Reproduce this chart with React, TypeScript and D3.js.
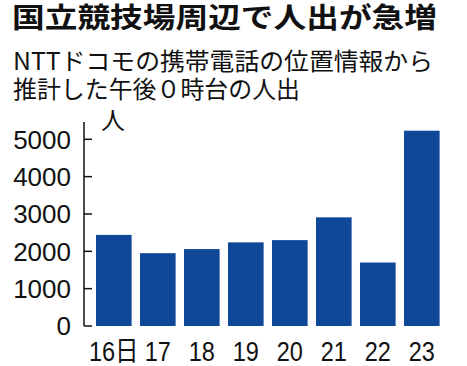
import React from "react";
import * as d3 from "d3";

const categories = ["16日", "17", "18", "19", "20", "21", "22", "23"];
const values = [2440, 1950, 2060, 2240, 2300, 2910, 1700, 5230];
const yTicks = [0, 1000, 2000, 3000, 4000, 5000];
const title = "国立競技場周辺で人出が急増";
const subtitle1 = "NTTドコモの携帯電話の位置情報から";
const subtitle2 = "推計した午後０時台の人出";
const unitLabel = "人";

const W = 467;
const H = 366;
const BAR_COLOR = "#0f4799";
const CJK = "'Noto Sans CJK JP', 'Noto Sans', sans-serif";
const NUM = "'Liberation Sans', Arial, 'Noto Sans CJK JP', sans-serif";

export default function App() {
  const y = d3.scaleLinear().domain([0, 5000]).range([326, 139.3]);
  const x = d3
    .scaleBand<string>()
    .domain(categories)
    .range([91.8, 443.8])
    .paddingInner(0.19)
    .paddingOuter(0.095);
  const axisX = 84;

  return (
    <svg
      width={W}
      height={H}
      style={{ position: "absolute", left: 0, top: 0, background: "#fff" }}
    >
      <rect x={0} y={0} width={W} height={H} fill="#fff" />
      <text
        x={12}
        y={28}
        fontFamily={CJK}
        fontWeight={700}
        fontSize={28}
        textLength={425}
        lengthAdjust="spacingAndGlyphs"
        fill="#111"
      >
        {title}
      </text>
      <text
        x={13}
        y={70}
        fontFamily={CJK}
        fontSize={24}
        textLength={420}
        lengthAdjust="spacingAndGlyphs"
        fill="#111"
      >
        {subtitle1}
      </text>
      <text
        x={13}
        y={98}
        fontFamily={CJK}
        fontSize={24}
        textLength={287}
        lengthAdjust="spacingAndGlyphs"
        fill="#111"
      >
        {subtitle2}
      </text>

      {/* bars */}
      {categories.map((c, i) => (
        <rect
          key={c}
          x={x(c)}
          y={y(values[i])}
          width={x.bandwidth()}
          height={y(0) - y(values[i])}
          fill={BAR_COLOR}
        />
      ))}

      {/* y axis */}
      <line x1={axisX} x2={axisX} y1={122} y2={y(0)} stroke="#111" strokeWidth={1.5} />
      {yTicks.map((t) => (
        <g key={t}>
          <line x1={axisX} x2={axisX + 8} y1={y(t)} y2={y(t)} stroke="#111" strokeWidth={1.5} />
          <text
            x={71}
            y={y(t) + 9.3}
            textAnchor="end"
            fontFamily={NUM}
            fontSize={26}
            fill="#111"
          >
            {t}
          </text>
        </g>
      ))}
      <text x={101} y={129} fontFamily={CJK} fontSize={24} fill="#111">
        {unitLabel}
      </text>

      {/* x labels */}
      {categories.map((c) => {
        const cx = (x(c) ?? 0) + x.bandwidth() / 2;
        return (
          <text
            key={c}
            transform={`translate(${cx},360.5) scale(0.84,1)`}
            textAnchor="middle"
            fontFamily={NUM}
            fontSize={28}
            fill="#111"
          >
            {c}
          </text>
        );
      })}
    </svg>
  );
}
